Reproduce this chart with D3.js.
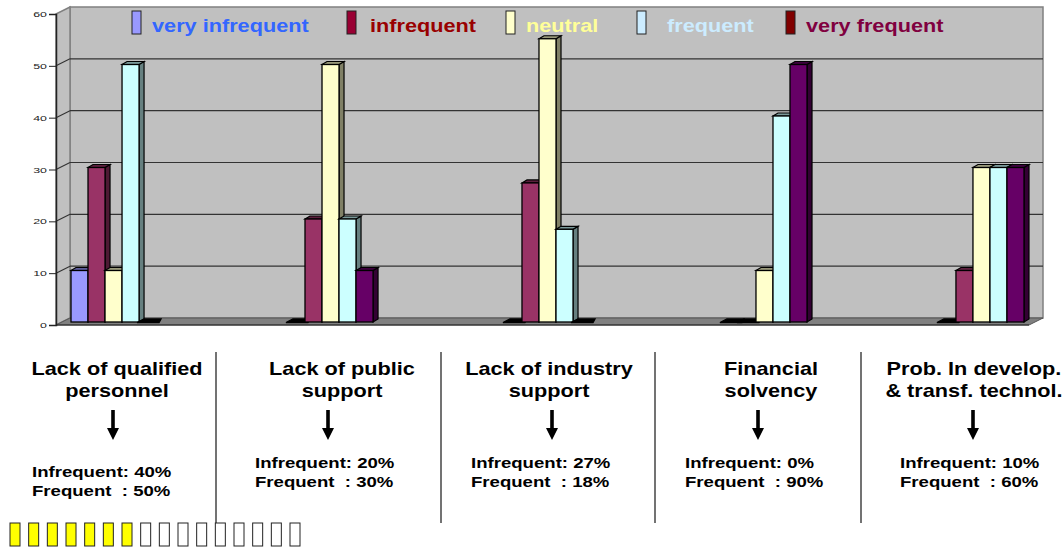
<!DOCTYPE html>
<html>
<head>
<meta charset="utf-8">
<script src="https://cdn.jsdelivr.net/npm/d3@7"></script>
<style>
  body { margin: 0; background: #fff; }
  svg { display: block; font-family: "Liberation Sans", Arial, sans-serif; }
</style>
</head>
<body>
<figure id="chart" style="margin:0"></figure>
<script>
// ---- data ----
const categories = ["Lack of qualified personnel", "Lack of public support", "Lack of industry support",
                    "Financial solvency", "Prob. In develop. & transf. technol."];
const series = ["very infrequent", "infrequent", "neutral", "frequent", "very frequent"];
const veryInfrequent = [10, 0, 0, 0, 0];
const infrequent     = [30, 20, 27, 0, 10];
const neutral        = [10, 50, 55, 10, 30];
const frequent       = [50, 20, 18, 40, 30];
const veryFrequent   = [0, 10, 0, 50, 30];
const yTicks = [0, 10, 20, 30, 40, 50, 60];

const titleLines = [["Lack of qualified", "personnel"], ["Lack of public", "support"],
                    ["Lack of industry", "support"], ["Financial", "solvency"],
                    ["Prob. In develop.", "& transf. technol."]];
const infrequentPct = [40, 20, 27, 0, 10];
const frequentPct   = [50, 30, 18, 90, 60];
const boxesTotal = 16;
const boxesFilled = 7;

// ---- styles ----
const barColors = ["#9999FF", "#993366", "#FFFFCC", "#CCFFFF", "#660066"];
const swatchColors = ["#9999FF", "#990033", "#FFFFCC", "#CCECFF", "#800000"];
const legendText = ["#3366FF", "#990000", "#FFFF99", "#CCECFF", "#800040"];
const stretch = 1.24;   // text in the picture is wider than normal

const W = 1063, H = 549;
const svg = d3.select("#chart").append("svg").attr("width", W).attr("height", H);

// front plane and depth offset of the 3D box
const axisX = 56, rightX = 1029, dx = 14, dy = -7;
const y = d3.scaleLinear().domain([0, 60]).range([325, 14]);
const yBar = d3.scaleLinear().domain([0, 60]).range([322, 13]);

const x0 = d3.scaleBand().domain(categories).range([71, 1024]).paddingInner(0.608).paddingOuter(0);
const x1 = d3.scaleBand().domain(series).range([0, x0.bandwidth()]);

function sText(g, str, x, yy, size, anchor, color, weight) {
  return g.append("text")
    .attr("transform", "translate(" + x + "," + yy + ") scale(" + stretch + ",1)")
    .attr("text-anchor", anchor)
    .attr("font-size", size)
    .attr("font-weight", weight || "bold")
    .attr("fill", color)
    .style("white-space", "pre")
    .text(str);
}

// walls and floor
const walls = svg.append("g");
walls.append("rect")
  .attr("x", axisX + dx).attr("y", y(60) + dy)
  .attr("width", rightX + dx - axisX - dx).attr("height", y(0) - y(60))
  .attr("fill", "#C0C0C0").attr("stroke", "#808080").attr("stroke-width", 1.5);
walls.append("polygon")
  .attr("points", [[axisX, y(60)], [axisX + dx, y(60) + dy], [axisX + dx, y(0) + dy], [axisX, y(0)]].join(" "))
  .attr("fill", "#C0C0C0").attr("stroke", "#808080").attr("stroke-width", 1.5);

// gridlines
yTicks.filter(d => d > 0 && d < 60).forEach(v => {
  walls.append("line")
    .attr("x1", axisX + dx).attr("x2", rightX + dx)
    .attr("y1", y(v) + dy).attr("y2", y(v) + dy)
    .attr("stroke", "#333").attr("stroke-width", 1.2);
  walls.append("line")
    .attr("x1", axisX).attr("x2", axisX + dx)
    .attr("y1", y(v)).attr("y2", y(v) + dy)
    .attr("stroke", "#333").attr("stroke-width", 1.2);
});

walls.append("polygon")
  .attr("points", [[axisX, y(0)], [axisX + dx, y(0) + dy], [rightX + dx, y(0) + dy], [rightX, y(0)]].join(" "))
  .attr("fill", "#808080").attr("stroke", "#555").attr("stroke-width", 1);
walls.append("line")
  .attr("x1", axisX).attr("x2", rightX).attr("y1", y(0)).attr("y2", y(0))
  .attr("stroke", "#222").attr("stroke-width", 1.2);

// y axis
const axisG = svg.append("g").attr("transform", "translate(" + axisX + ",0)")
  .call(d3.axisLeft(y).tickValues(yTicks).tickSize(7).tickFormat(""));
axisG.select(".domain").attr("stroke", "#222").attr("stroke-width", 1.5);
axisG.selectAll(".tick line").attr("stroke", "#222");
yTicks.forEach(v => sText(svg, String(v), axisX - 9, y(v) + 3, 7.5, "end", "#222", "normal")
  .attr("transform", "translate(" + (axisX - 9) + "," + (y(v) + 3) + ") scale(1.65,1)"));

// bars
const seriesValues = [veryInfrequent, infrequent, neutral, frequent, veryFrequent];
const bdx = 5, bdy = -3;
const rows = [];
categories.forEach((c, i) => series.forEach((s, j) => rows.push({ c, s, j, v: seriesValues[j][i] })));

const bars = svg.append("g").selectAll("g").data(rows).join("g");
function shade(col, k) {
  const c = d3.rgb(col);
  return d3.rgb(c.r * k, c.g * k, c.b * k).toString();
}
bars.each(function (d) {
  const g = d3.select(this);
  const bx = x0(d.c) + x1(d.s), bw = x1.bandwidth();
  const top = yBar(d.v), bot = yBar(0);
  const col = barColors[d.j];
  if (d.v === 0) {
    // an empty bar shows only as a flat black slab on the floor
    g.append("polygon")
      .attr("points", [[bx - 2, bot + 0.5], [bx + bdx, bot + bdy], [bx + bw + bdx, bot + bdy], [bx + bw + 3, bot + 0.5]].join(" "))
      .attr("fill", "#000").attr("stroke", "#000").attr("stroke-width", 1.3);
    return;
  }
  g.append("polygon")
    .attr("points", [[bx + bw, top], [bx + bw + bdx, top + bdy], [bx + bw + bdx, bot + bdy], [bx + bw, bot]].join(" "))
    .attr("fill", shade(col, 0.5)).attr("stroke", "#000").attr("stroke-width", 1.2);
  g.append("polygon")
    .attr("points", [[bx, top], [bx + bdx, top + bdy], [bx + bw + bdx, top + bdy], [bx + bw, top]].join(" "))
    .attr("fill", shade(col, 0.6)).attr("stroke", "#000").attr("stroke-width", 1.2);
  g.append("rect").attr("x", bx).attr("y", top).attr("width", bw).attr("height", bot - top)
    .attr("fill", col).attr("stroke", "#000").attr("stroke-width", 1.3);
});

// legend
const legendX = [132, 347, 506, 637, 786];
const legendTextX = [152, 370, 526, 667, 806];
const legend = svg.append("g");
series.forEach((s, j) => {
  legend.append("rect").attr("x", legendX[j]).attr("y", 11).attr("width", 9).attr("height", 23)
    .attr("fill", swatchColors[j]).attr("stroke", "#222").attr("stroke-width", 1);
  sText(legend, s, legendTextX[j], 32, 17.5, "start", legendText[j]);
});

// lower annotation panel
const titleX = [117, 342, 549, 771, 974];
const arrowX = [113, 328, 552, 758, 973];
const pctX = [32, 255, 471, 685, 900];
const pctY = [477, 468, 468, 468, 468];
const dividers = [216, 441, 655, 861];
const notes = svg.append("g");

dividers.forEach(xx => notes.append("line")
  .attr("x1", xx).attr("x2", xx).attr("y1", 352).attr("y2", 523)
  .attr("stroke", "#444").attr("stroke-width", 1.5));

categories.forEach((c, i) => {
  titleLines[i].forEach((ln, k) => sText(notes, ln, titleX[i], 375 + k * 22, 17.5, "middle", "#000"));
  const ax = arrowX[i];
  notes.append("path")
    .attr("d", `M${ax - 1.8},410 L${ax + 1.8},410 L${ax + 1.8},428 L${ax + 6},428 L${ax},440 L${ax - 6},428 L${ax - 1.8},428 Z`)
    .attr("fill", "#000");
  sText(notes, "Infrequent: " + infrequentPct[i] + "%", pctX[i], pctY[i], 15, "start", "#000");
  sText(notes, "Frequent  : " + frequentPct[i] + "%", pctX[i], pctY[i] + 18.5, 15, "start", "#000");
});

// progress boxes
const boxX = d3.scaleLinear().domain([0, boxesTotal - 1]).range([10, 290]);
svg.append("g").selectAll("rect").data(d3.range(boxesTotal)).join("rect")
  .attr("x", d => boxX(d)).attr("y", 523).attr("width", 10).attr("height", 23)
  .attr("fill", d => d < boxesFilled ? "#FFFF00" : "#fff")
  .attr("stroke", "#222").attr("stroke-width", 1);
</script>
</body>
</html>
